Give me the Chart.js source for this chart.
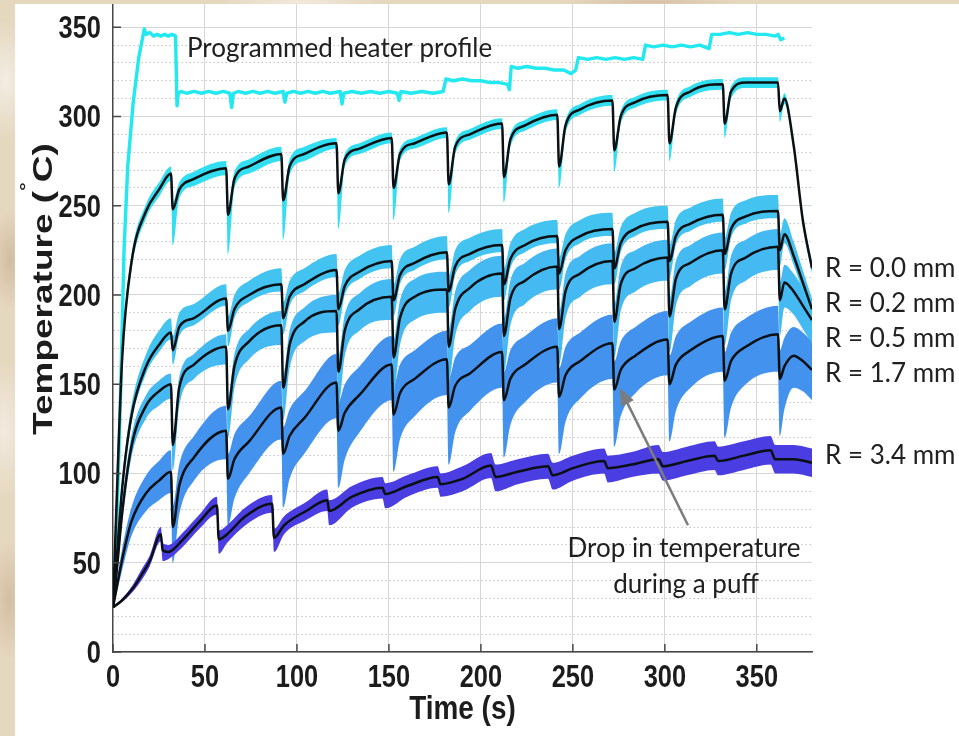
<!DOCTYPE html>
<html>
<head>
<meta charset="utf-8">
<script src="https://cdn.jsdelivr.net/npm/chart.js@4.4.1/dist/chart.umd.min.js"></script>
<style>
  html, body { margin: 0; padding: 0; }
  body {
    width: 959px; height: 736px; overflow: hidden; position: relative;
    background-color: #e6d7bf;
    background-image:
      radial-gradient(ellipse 30px 60px at 6px 80px, rgba(255,255,255,0.55), transparent),
      radial-gradient(ellipse 20px 50px at 10px 260px, rgba(170,140,105,0.35), transparent),
      radial-gradient(ellipse 25px 70px at 4px 430px, rgba(255,255,255,0.5), transparent),
      radial-gradient(ellipse 20px 60px at 9px 600px, rgba(175,145,110,0.35), transparent),
      radial-gradient(ellipse 80px 6px at 300px 2px, rgba(255,255,255,0.5), transparent),
      radial-gradient(ellipse 90px 5px at 650px 2px, rgba(180,150,115,0.35), transparent);
  }
  #panel { position: absolute; left: 15px; top: 4px; width: 944px; height: 732px; background: #fff; }
  #chart { position: absolute; left: 0; top: 0; }
</style>
</head>
<body>
<div id="panel"><canvas id="chart" width="944" height="732"></canvas></div>
<script>
// tick labels
const xTicks = [0, 50, 100, 150, 200, 250, 300, 350];
const yTicks = [0, 50, 100, 150, 200, 250, 300, 350];

// programmed heater profile (s, degC)
const heatT = [0, 2, 4, 6, 8, 11, 14, 17, 18, 20, 22, 24, 26, 28, 30, 32, 34, 34.8, 35.5,
  37, 40, 44, 48, 52, 56, 60, 63.5, 64.5, 65.5, 68, 72, 76, 80, 84, 88, 92.5, 93.5, 94.5,
  98, 102, 106, 110, 114, 118, 123.5, 124.5, 125.5, 130, 135, 140, 145, 150, 154.5, 155.5, 156.5,
  162, 168, 174, 179.5, 181, 185, 190, 195, 200, 205, 210, 214.5, 215.5, 216.5,
  220, 225, 230, 235, 240, 245, 249, 251.5, 253, 258, 263, 268, 273, 278, 283, 288, 289.5,
  294, 299, 304, 309, 314, 319, 324, 325.5, 330, 335, 340, 345, 350, 355, 360, 361.5, 363, 365];
const heatV = [25, 70, 140, 225, 272, 308, 333, 349, 346, 347, 345, 346, 345, 346, 345, 346, 345, 306, 313,
  314, 313, 314, 313, 314, 313, 314, 313, 305, 313, 314, 313, 314, 313, 314, 313, 314, 308, 313,
  314, 313, 314, 313, 314, 313, 314, 307, 313, 314, 313, 314, 313, 314, 313, 309, 314,
  313, 314, 313, 314, 321, 320, 321, 320, 320, 319, 319, 318, 315, 328,
  327, 328, 327, 327, 326, 326, 324, 326, 333, 332, 333, 332, 333, 332, 333, 332, 340,
  339, 340, 339, 340, 339, 340, 338, 346, 346, 347, 346, 347, 346, 346, 345, 346, 343, 344];

// sample times shared by R = 0.0 ... 1.7 mm (puff every 30 s)
const time = [0, 2, 5, 10, 18, 25,
  31.5, 32.5, 36, 44,   61.5, 62.5, 66, 74,   91.5, 92.5, 96, 104,
  121.5, 122.5, 126, 134,   151.5, 152.5, 156, 164,   181.5, 182.5, 186, 194,
  211.5, 212.5, 216, 224,   241.5, 242.5, 246, 254,   271.5, 272.5, 276, 284,
  301.5, 302.5, 306, 314,   331.5, 332.5, 336, 344,
  361.5, 362.5, 365, 370, 375, 380];

// R = 0.0 mm: mean, band above, band below
const r00 = [25, 85, 165, 218, 247, 259,
  268, 248, 259, 265,   271, 245, 265, 272,   279, 253, 272, 279,
  285, 257, 276, 282,   288, 260, 279, 285,   291, 262, 283, 290,
  296, 266, 287, 295,   301, 272, 295, 304,   309, 281, 300, 308,
  312, 285, 305, 314,   318, 296, 314, 319,
  319, 303, 310, 284, 242, 215];
const r00Hi = [0, 2, 3, 4, 4, 4,
  4, 4, 4, 4,   4, 4, 4, 4,   4, 4, 4, 4,   3, 3, 3, 3,   3, 3, 3, 3,   3, 3, 3, 3,
  3, 3, 3, 3,   3, 3, 3, 3,   3, 3, 3, 3,   3, 3, 3, 3,   3, 3, 3, 3,
  3, 3, 3, 3, 3, 3];
const r00Lo = [0, 2, 3, 4, 4, 4,
  4, 20, 5, 4,   4, 22, 5, 4,   4, 22, 5, 4,   3, 20, 4, 3,   3, 18, 4, 3,   3, 16, 4, 3,
  3, 14, 4, 3,   3, 12, 4, 3,   3, 12, 4, 3,   3, 10, 4, 3,   3, 8, 4, 3,
  3, 6, 3, 3, 3, 3];

// R = 0.2 mm
const r02 = [25, 52, 92, 132, 160, 172,
  179, 169, 182, 187,   198, 180, 192, 200,   206, 187, 199, 206,
  214, 192, 205, 213,   219, 197, 211, 218,   224, 202, 216, 223,
  228, 206, 220, 228,   233, 212, 225, 233,   237, 215, 229, 237,
  241, 219, 233, 240,   245, 223, 237, 244,
  247, 225, 234, 222, 207, 192];
const r02Hi = [0, 3, 5, 6, 7, 8,
  8, 8, 8, 8,   8, 8, 8, 8,   9, 9, 9, 9,   9, 9, 9, 9,   9, 9, 9, 9,   9, 9, 9, 9,
  9, 9, 9, 9,   9, 9, 9, 9,   9, 9, 9, 9,   9, 9, 9, 9,   9, 9, 9, 9,
  9, 9, 9, 8, 7, 6];
const r02Lo = [0, 3, 4, 4, 4, 4,
  4, 8, 5, 4,   4, 9, 5, 4,   4, 9, 5, 4,   4, 9, 5, 4,   4, 9, 5, 4,   4, 9, 5, 4,
  4, 9, 5, 4,   4, 9, 5, 4,   4, 9, 5, 4,   4, 9, 5, 4,   4, 9, 5, 4,
  4, 9, 5, 5, 5, 5];

// R = 0.5 mm
const r05 = [25, 45, 78, 115, 138, 146,
  150, 116, 148, 161,   171, 136, 160, 174,   183, 148, 172, 185,
  191, 157, 180, 192,   199, 165, 187, 199,   203, 171, 192, 204,
  212, 177, 198, 208,   216, 181, 202, 212,   219, 185, 206, 215,
  221, 188, 209, 218,   225, 192, 212, 221,
  227, 197, 207, 202, 194, 186];
const r05Hi = [0, 3, 5, 6, 6, 6,
  6, 6, 6, 6,   7, 7, 7, 7,   8, 8, 8, 8,   9, 9, 9, 9,   10, 10, 10, 10,   10, 10, 10, 10,
  10, 10, 10, 10,   10, 10, 10, 10,   10, 10, 10, 10,   10, 10, 10, 10,   10, 10, 10, 10,
  10, 10, 10, 10, 10, 10];
const r05Lo = [0, 3, 5, 6, 7, 8,
  8, 14, 10, 8,   10, 16, 12, 10,   11, 18, 13, 11,   12, 19, 14, 12,   13, 20, 15, 13,
  13, 20, 15, 13,   13, 20, 15, 13,   13, 20, 15, 13,   13, 20, 15, 13,   13, 20, 15, 13,
  13, 20, 15, 13,   13, 20, 14, 13, 13, 13];

// R = 1.7 mm
const r17 = [25, 36, 52, 73, 89, 96,
  101, 70, 93, 109,   124, 97, 108, 118,   137, 111, 121, 131,
  151, 124, 134, 144,   161, 133, 145, 153,   164, 137, 149, 156,
  168, 141, 153, 161,   171, 143, 155, 163,   173, 147, 158, 166,
  175, 150, 161, 169,   177, 152, 163, 171,
  178, 153, 160, 166, 163, 158];
const r17Hi = [0, 3, 6, 8, 10, 11,
  12, 12, 12, 12,   14, 14, 14, 14,   15, 15, 15, 15,   16, 16, 16, 16,   16, 16, 16, 16,
  16, 16, 16, 16,   16, 16, 16, 16,   16, 16, 16, 16,   16, 16, 16, 16,   16, 16, 16, 16,
  16, 16, 16, 16,   16, 16, 16, 16, 16, 16];
const r17Lo = [0, 3, 6, 8, 10, 11,
  12, 20, 16, 13,   16, 26, 22, 18,   18, 30, 24, 20,   20, 32, 26, 21,   20, 32, 26, 21,
  20, 32, 26, 21,   20, 32, 26, 21,   20, 32, 26, 21,   20, 32, 26, 21,   20, 32, 26, 21,
  20, 32, 26, 21,   21, 32, 24, 18, 17, 17];

// R = 3.4 mm (its own sample times)
const t34 = [0, 5, 11, 16, 20, 26, 27, 30, 38, 47,
  56.5, 57.5, 62, 72,   86.5, 87.5, 93, 105,   116.5, 117.5, 130,   146.5, 148, 160,
  176.5, 178, 190,   205.5, 208, 220,   236.5, 239, 250,   267, 269, 282,
  296.5, 299, 312,   327, 329, 343,   357.5, 360, 370, 380];
const r34 = [25, 29, 36, 44, 51, 66, 57, 56, 63, 73,
  82, 63, 66, 76,   83, 64, 71, 79,   85, 79, 87,   92, 88.5, 93,
  98, 94, 97,   104.5, 98, 101,   104, 99, 103,   107, 103, 105,
  108, 104, 107,   110, 107, 110,   113, 108, 108, 106];
const r34Hi = [0, 1, 2, 3, 3, 4, 4, 4, 4, 4,
  5, 5, 5, 5,   5, 5, 5, 5,   6, 6, 6,   6, 6, 6,
  6, 6, 7,   7, 7, 7,   7, 7, 7,   7, 7, 7,
  8, 8, 8,   8, 8, 8,   8, 8, 8, 8];
const r34Lo = [0, 1, 2, 3, 3, 4, 6, 4, 4, 4,
  5, 8, 5, 5,   5, 8, 5, 5,   6, 8, 6,   6, 8, 6,
  6, 7, 7,   7, 8, 7,   7, 8, 7,   7, 8, 7,
  8, 8, 8,   8, 8, 8,   8, 8, 8, 8];

const LINE = '#0b1014';

function pts(ts, vals) {
  return ts.map((t, i) => ({ x: t, y: vals[i] }));
}

function band(ts, mean, hi, lo, color, order) {
  return [
    { data: pts(ts, mean.map((v, i) => v + hi[i])), borderWidth: 0, backgroundColor: color, fill: '+1', order: order },
    { data: pts(ts, mean.map((v, i) => v - lo[i])), borderWidth: 0, fill: false, order: order }
  ];
}

function mean(ts, vals) {
  return { data: pts(ts, vals), borderColor: LINE, borderWidth: 2.5, fill: false, order: 0 };
}

const datasets = [
  mean(time, r00), mean(time, r02), mean(time, r05), mean(time, r17), mean(t34, r34),
  { data: pts(heatT, heatV), borderColor: '#22e8ef', borderWidth: 3.4, fill: false, order: 1,
    cubicInterpolationMode: 'default', tension: 0, borderJoinStyle: 'round' },
  ...band(t34, r34, r34Hi, r34Lo, '#4a3de2', 2),
  ...band(time, r00, r00Hi, r00Lo, '#33def0', 3),
  ...band(time, r02, r02Hi, r02Lo, '#42c3f0', 4),
  ...band(time, r05, r05Hi, r05Lo, '#45b9f1', 5),
  ...band(time, r17, r17Hi, r17Lo, '#4393ee', 6)
];

function txt(c, s, x, y, font, align, sx) {
  c.save();
  c.font = font;
  c.textAlign = align;
  c.textBaseline = 'alphabetic';
  c.translate(x, y);
  c.scale(sx, 1);
  c.fillText(s, 0, 0);
  c.restore();
}

const decor = {
  id: 'decor',
  afterDraw(chart) {
    const c = chart.ctx, xs = chart.scales.x, ys = chart.scales.y, a = chart.chartArea;
    const tickFont = 'bold 31px "Liberation Sans", Arial, sans-serif';
    const noteFont = '26px Lato, "Open Sans", sans-serif';
    const big = 'bold 37px "Liberation Sans", Arial, sans-serif';
    c.save();
    // inward tick marks
    c.strokeStyle = '#474747';
    c.lineWidth = 1.5;
    c.beginPath();
    xTicks.forEach(v => { const p = xs.getPixelForValue(v); c.moveTo(p, a.bottom); c.lineTo(p, a.bottom - 8); });
    yTicks.forEach(v => { const p = ys.getPixelForValue(v); c.moveTo(a.left, p); c.lineTo(a.left + 8, p); });
    c.stroke();

    // tick labels
    c.fillStyle = '#1c1c1c';
    xTicks.forEach(v => txt(c, String(v), xs.getPixelForValue(v), a.bottom + 35, tickFont, 'center', 0.82));
    yTicks.forEach(v => txt(c, String(v), a.left - 12, ys.getPixelForValue(v) + 11, tickFont, 'right', 0.82));

    // axis titles
    txt(c, 'Time (s)', (a.left + a.right) / 2, a.bottom + 67, 'bold 34px "Liberation Sans", Arial, sans-serif', 'center', 0.82);
    c.save();
    c.translate(37, 285);
    c.rotate(-Math.PI / 2);
    c.scale(1, 0.76);
    c.font = big;
    const p1 = 'Temperature (', p2 = 'C)';
    const w1 = c.measureText(p1).width, w2 = c.measureText(p2).width;
    c.font = 'bold 22px "Liberation Sans", Arial, sans-serif';
    const wd = c.measureText('\u00b0').width;
    let s = -(w1 + wd + w2) / 2;
    c.textAlign = 'left';
    c.font = big;
    c.fillText(p1, s, 0);
    c.font = 'bold 22px "Liberation Sans", Arial, sans-serif';
    c.fillText('\u00b0', s + w1, -26);
    c.font = big;
    c.fillText(p2, s + w1 + wd, 0);
    c.restore();

    // annotations
    c.fillStyle = '#202020';
    txt(c, 'Programmed heater profile', 172, 53, noteFont, 'left', 1);
    const rx = a.right + 13;
    [['R = 0.0 mm', 273], ['R = 0.2 mm', 308], ['R = 0.5 mm', 343], ['R = 1.7 mm', 378], ['R = 3.4 mm', 460]]
      .forEach(r => txt(c, r[0], rx, r[1], noteFont, 'left', 1));
    txt(c, 'Drop in temperature', 669, 553, noteFont, 'center', 1);
    txt(c, 'during a puff', 671, 589, noteFont, 'center', 1);

    // arrow pointing at a puff
    const tipX = xs.getPixelForValue(275.6), tipY = ys.getPixelForValue(147.8);
    const tailX = xs.getPixelForValue(312.6), tailY = ys.getPixelForValue(71);
    const ang = Math.atan2(tipY - tailY, tipX - tailX);
    c.strokeStyle = '#7c7c7c';
    c.fillStyle = '#7c7c7c';
    c.lineWidth = 2.5;
    c.beginPath();
    c.moveTo(tailX, tailY);
    c.lineTo(tipX - 12 * Math.cos(ang), tipY - 12 * Math.sin(ang));
    c.stroke();
    c.beginPath();
    c.moveTo(tipX, tipY);
    c.lineTo(tipX - 17 * Math.cos(ang) + 7 * Math.sin(ang), tipY - 17 * Math.sin(ang) - 7 * Math.cos(ang));
    c.lineTo(tipX - 17 * Math.cos(ang) - 7 * Math.sin(ang), tipY - 17 * Math.sin(ang) + 7 * Math.cos(ang));
    c.closePath();
    c.fill();
    c.restore();
  }
};

new Chart(document.getElementById('chart').getContext('2d'), {
  type: 'line',
  data: { datasets: datasets },
  options: {
    responsive: false,
    animation: false,
    layout: { padding: { left: 98, right: 147, top: 0, bottom: 84 } },
    plugins: { legend: { display: false }, tooltip: { enabled: false } },
    elements: {
      point: { radius: 0 },
      line: { cubicInterpolationMode: 'monotone' }
    },
    scales: {
      x: {
        type: 'linear', min: 0, max: 380,
        afterBuildTicks: s => { s.ticks = xTicks.map(v => ({ value: v })); },
        afterFit: s => { s.height = 0; },
        ticks: { display: false },
        grid: { color: c => (c.tick && c.tick.value === 0) ? 'rgba(0,0,0,0)' : '#d6d6d6', lineWidth: 1, drawTicks: false },
        border: { color: '#474747', width: 1.5 }
      },
      y: {
        type: 'linear', min: 0, max: 363,
        ticks: { display: false, stepSize: 10 },
        afterBuildTicks: s => { s.ticks = s.ticks.filter(t => t.value % 10 === 0); },
        afterFit: s => { s.width = 0; },
        grid: {
          color: c => (c.tick && c.tick.value % 50 === 0) ? '#d6d6d6' : '#c4c4c4',
          lineWidth: 1, drawTicks: false
        },
        border: {
          color: '#474747', width: 1.5,
          dash: c => (c.tick && c.tick.value % 50 !== 0) ? [1.5, 2.5] : []
        }
      }
    }
  },
  plugins: [decor]
});
</script>
</body>
</html>
